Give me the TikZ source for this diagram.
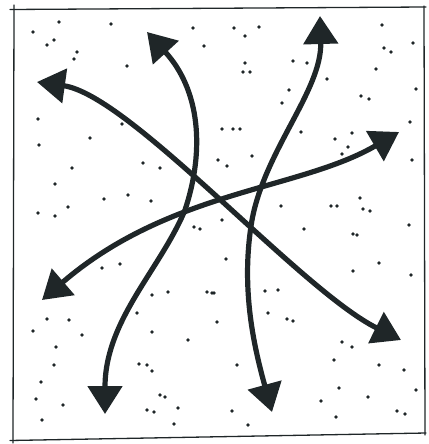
\documentclass[tikz,border=0pt]{standalone}
\usepackage{tikz}
\usepackage{xcolor}
\usetikzlibrary{arrows.meta,calc}
\definecolor{ink}{HTML}{1F2628}
\tikzset{
  frameline/.style={draw=ink,line width=1.3pt,line cap=round},
  flowarrow/.style={draw=ink,line width=5.2pt,
    {Triangle[length=28pt,width=34pt]}-{Triangle[length=28pt,width=34pt]}},
  speck/.style={fill=ink}
}
\begin{document}
\begin{tikzpicture}[x=1pt,y=-1pt]
  \useasboundingbox (0,0) rectangle (428,444);
  % hand-drawn frame
  \coordinate (tl) at (14,9);
  \coordinate (tr) at (424,7);
  \coordinate (br) at (425,433);
  \coordinate (bl) at (13,440);
  \draw[frameline] ($(tl)+(-4,0.5)$) -- ($(tr)+(2,0)$);
  \draw[frameline] ($(tr)+(0,-1)$) -- ($(br)+(0,2)$);
  \draw[frameline] ($(br)+(1,0)$) -- ($(bl)+(-3,0.5)$);
  \draw[frameline] ($(bl)+(0,3)$) -- ($(tl)+(0,-4)$);
  % scattered specks
  \foreach \px/\py in {33/32,59/22,111/24,47/45,54/40,77/52,74/59,127/66,193/28,204/46,
      38/119,39/145,90/138,122/124,72/168,143/163,160/168,55/184,104/199,128/195,
      151/201,68/207,38/213,55/216,234/28,245/36,259/27,245/63,243/72,250/72,
      293/61,307/63,327/79,289/90,282/103,382/25,413/43,384/48,391/52,376/69,
      416/89,361/96,369/99,410/122,222/129,233/129,240/129,301/132,352/133,335/139,
      348/147,342/154,252/156,218/160,227/166,412/160,281/206,331/206,337/206,360/198,
      363/209,370/211,222/220,194/227,200/229,102/268,120/264,152/295,168/292,207/292,
      212/293,137/313,47/319,69/320,33/331,82/335,152/332,188/340,56/347,54/365,
      139/364,147/365,152/371,41/382,36/399,63/405,160/395,165/397,147/410,154/412,
      178/408,42/420,174/424,304/229,353/234,357/235,409/225,226/259,379/263,353/271,
      411/275,214/293,265/291,278/290,268/313,287/319,293/321,217/322,342/342,352/347,
      334/360,379/365,404/370,237/365,339/388,368/397,321/401,416/390,232/411,248/425,
      336/417,397/411,405/414}
    \fill[speck] (\px,\py) circle (1.9);
  % arrow end points
  \coordinate (nw) at (37,82);
  \coordinate (se) at (401,340);
  \coordinate (nnw) at (147,32);
  \coordinate (ssw) at (105,414);
  \coordinate (nne) at (320,16);
  \coordinate (sse) at (272,412);
  \coordinate (ene) at (399,132);
  \coordinate (wsw) at (42,300);
  \coordinate (bmid) at (185,210);
  \coordinate (cmid) at (252,220);
  % four crossing double arrows
  \draw[flowarrow] (nw) .. controls (130,95) and (300,290) .. (se);
  \draw[flowarrow] (nnw) .. controls (200,90) and (205,150) .. (bmid)
                         .. controls (160,270) and (105,320) .. (ssw);
  \draw[flowarrow] (nne) .. controls (322,90) and (265,150) .. (cmid)
                         .. controls (240,290) and (255,350) .. (sse);
  \draw[flowarrow] (ene) .. controls (300,190) and (170,190) .. (wsw);
\end{tikzpicture}
\end{document}
